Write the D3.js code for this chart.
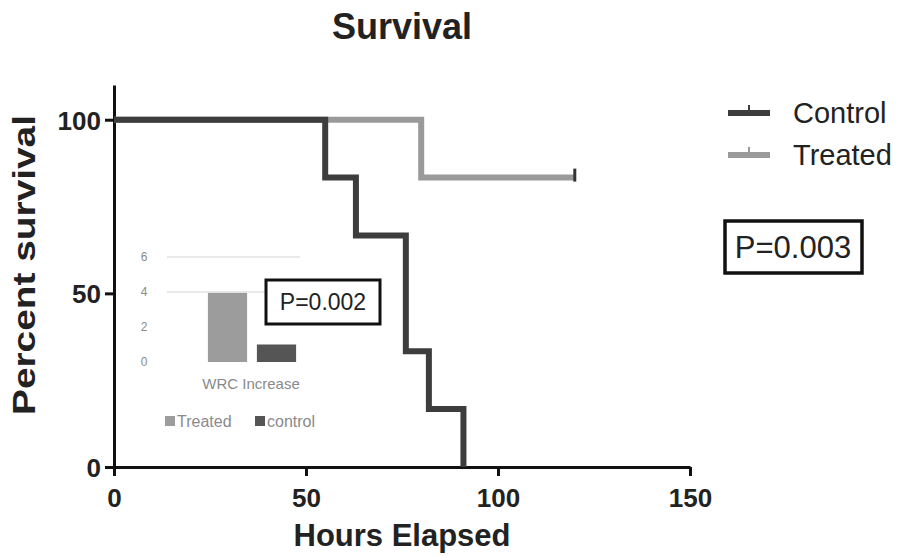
<!DOCTYPE html>
<html>
<head>
<meta charset="utf-8">
<script src="https://cdn.jsdelivr.net/npm/d3@7"></script>
<style>
  body { margin: 0; background: #fff; }
  svg text { font-family: "Liberation Sans", Arial, sans-serif; }
</style>
</head>
<body>
<svg id="chart" width="899" height="556"></svg>
<script>
// survival curves (hours, percent)
var controlTimes = [0, 55, 63, 76, 82, 91];
var controlSurv  = [100, 83.33, 66.67, 33.33, 16.67, 0];
var treatedTimes = [0, 80, 120];
var treatedSurv  = [100, 83.33, 83.33];
var xTicks = [0, 50, 100, 150];
var yTicks = [0, 50, 100];

// inset bar chart
var insetGroups = ["Treated", "control"];
var insetValues = [3.95, 1.0];
var insetTicks  = [0, 2, 4, 6];

var colors = { control: "#3d3d3d", treated: "#9a9a9a" };

var svg = d3.select("#chart");

var x = d3.scaleLinear().domain([0, 150]).range([114, 690]);
var y = d3.scaleLinear().domain([0, 110]).range([467, 85]);

// title
svg.append("text")
    .attr("x", 402).attr("y", 39)
    .attr("text-anchor", "middle")
    .attr("font-size", 36).attr("font-weight", "bold")
    .attr("fill", "#222")
    .text("Survival");

// ---- inset bar chart (drawn first, sits behind the curves) ----
var yIn = d3.scaleLinear().domain([0, 6]).range([362, 257]);
var xIn = d3.scaleBand().domain(insetGroups).range([203, 301]).paddingInner(0.2).paddingOuter(0.1);
var inset = svg.append("g");

inset.selectAll(".grid")
    .data(insetTicks.filter(function(d){ return d > 2; }))
    .enter().append("line")
        .attr("x1", 167).attr("x2", 300)
        .attr("y1", function(d){ return yIn(d); })
        .attr("y2", function(d){ return yIn(d); })
        .attr("stroke", "#d4d4d4").attr("stroke-width", 1);

inset.selectAll(".itick")
    .data(insetTicks)
    .enter().append("text")
        .attr("x", 144)
        .attr("y", function(d){ return yIn(d) + 4; })
        .attr("text-anchor", "middle")
        .attr("font-size", 12).attr("fill", "#8a8a8a")
        .text(function(d){ return d; });

inset.selectAll(".bar")
    .data(insetGroups)
    .enter().append("rect")
        .attr("x", function(d){ return xIn(d); })
        .attr("width", xIn.bandwidth())
        .attr("y", function(d, i){ return yIn(insetValues[i]); })
        .attr("height", function(d, i){ return yIn(0) - yIn(insetValues[i]); })
        .attr("fill", function(d, i){ return i == 0 ? "#9c9c9c" : "#555"; });

inset.append("text")
    .attr("x", 251).attr("y", 389)
    .attr("text-anchor", "middle")
    .attr("font-size", 15).attr("fill", "#8a8a8a")
    .text("WRC Increase");

var insetLeg = [{x: 165, c: "#9c9c9c", t: "Treated"}, {x: 255, c: "#555", t: "control"}];
insetLeg.forEach(function(d){
    inset.append("rect").attr("x", d.x).attr("y", 416).attr("width", 10).attr("height", 10).attr("fill", d.c);
    inset.append("text").attr("x", d.x + 12).attr("y", 427)
        .attr("font-size", 16).attr("fill", "#8a8a8a").text(d.t);
});

// P box inside
svg.append("rect")
    .attr("x", 266).attr("y", 280).attr("width", 114).attr("height", 44)
    .attr("fill", "#fff").attr("stroke", "#111").attr("stroke-width", 3);
svg.append("text")
    .attr("x", 323).attr("y", 310)
    .attr("text-anchor", "middle")
    .attr("font-size", 23).attr("fill", "#222")
    .text("P=0.002");

// ---- axes ----
var xAxis = svg.append("g")
    .attr("transform", "translate(0," + y(0) + ")")
    .call(d3.axisBottom(x).tickValues(xTicks).tickSize(9).tickSizeOuter(0).tickPadding(13));
var yAxis = svg.append("g")
    .attr("transform", "translate(" + x(0) + ",0)")
    .call(d3.axisLeft(y).tickValues(yTicks).tickSize(9).tickSizeOuter(0).tickPadding(4));

[xAxis, yAxis].forEach(function(a){
    a.select(".domain").attr("stroke", "#111").attr("stroke-width", 3);
    a.selectAll(".tick line").attr("stroke", "#111").attr("stroke-width", 3);
    a.selectAll(".tick text")
        .attr("font-size", 26).attr("font-weight", "bold").attr("fill", "#222")
        .style("font-family", "'Liberation Sans', Arial, sans-serif");
});
yAxis.selectAll(".tick text").attr("dy", "0.36em");

svg.append("text")
    .attr("x", 402).attr("y", 546)
    .attr("text-anchor", "middle")
    .attr("font-size", 31).attr("font-weight", "bold").attr("fill", "#222")
    .attr("textLength", 217).attr("lengthAdjust", "spacingAndGlyphs")
    .text("Hours Elapsed");

svg.append("text")
    .attr("transform", "translate(35,265) rotate(-90)")
    .attr("text-anchor", "middle")
    .attr("font-size", 32).attr("font-weight", "bold").attr("fill", "#222")
    .attr("textLength", 300).attr("lengthAdjust", "spacingAndGlyphs")
    .text("Percent survival");

// ---- survival curves ----
var step = d3.line()
    .x(function(d){ return x(d[0]); })
    .y(function(d){ return y(d[1]); })
    .curve(d3.curveStepAfter);

var treated = d3.zip(treatedTimes, treatedSurv);
var control = d3.zip(controlTimes, controlSurv);

svg.append("path").datum(treated)
    .attr("d", step).attr("fill", "none")
    .attr("stroke", colors.treated).attr("stroke-width", 6);

// censor mark at end of treated
var last = treated[treated.length - 1];
svg.append("line")
    .attr("x1", x(last[0])).attr("x2", x(last[0]))
    .attr("y1", y(last[1]) - 9).attr("y2", y(last[1]) + 4)
    .attr("stroke", "#333").attr("stroke-width", 3);

svg.append("path").datum(control)
    .attr("d", step).attr("fill", "none")
    .attr("stroke", colors.control).attr("stroke-width", 6);

// ---- legend ----
var legend = [{name: "Control", c: colors.control, y: 113}, {name: "Treated", c: colors.treated, y: 155}];
legend.forEach(function(d){
    svg.append("line").attr("x1", 728).attr("x2", 770).attr("y1", d.y).attr("y2", d.y)
        .attr("stroke", d.c).attr("stroke-width", 6);
    svg.append("line").attr("x1", 749).attr("x2", 749).attr("y1", d.y - 8).attr("y2", d.y)
        .attr("stroke", d.c).attr("stroke-width", 2);
    svg.append("text").attr("x", 793).attr("y", d.y + 10)
        .attr("font-size", 29).attr("fill", "#222").text(d.name);
});

svg.append("rect")
    .attr("x", 725).attr("y", 221).attr("width", 137).attr("height", 52)
    .attr("fill", "#fff").attr("stroke", "#111").attr("stroke-width", 3.5);
svg.append("text")
    .attr("x", 793).attr("y", 258)
    .attr("text-anchor", "middle")
    .attr("font-size", 31).attr("fill", "#222")
    .text("P=0.003");
</script>
</body>
</html>
